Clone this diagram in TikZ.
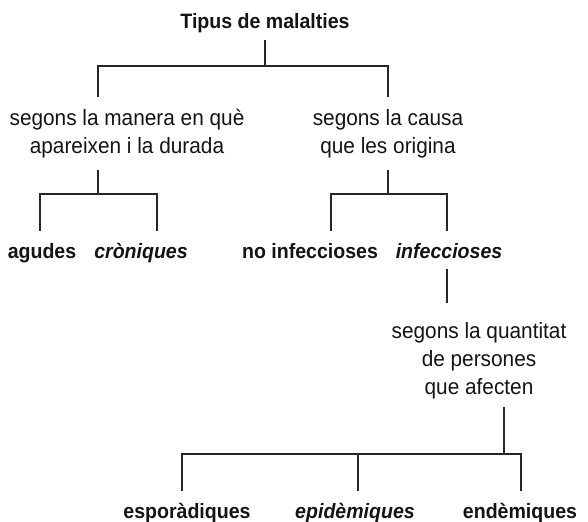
\documentclass[tikz,border=0pt]{standalone}
\usepackage{fontspec}
\setmainfont{Liberation Sans}[FakeStretch=0.94]
\begin{document}
\begin{tikzpicture}[x=0.75pt,y=-0.75pt,
  txt/.style={font=\fontsize{16.6}{21}\selectfont, align=center, inner sep=0pt, anchor=base, text=black!92},
  leaf/.style={txt, font=\fontsize{15.6}{21}\selectfont\bfseries},
  leafit/.style={txt, font=\fontsize{15.6}{21}\selectfont\bfseries\itshape},
  conn/.style={draw=black!85, line width=0.8pt}]
\useasboundingbox (0,0) rectangle (588,521);
% nodes
\node[leaf] (title) at (265,28) {Tipus de malalties};
\node[txt] (manera) at (127,153) {segons la manera en què\\apareixen i la durada};
\node[txt] (causa) at (388,153) {segons la causa\\que les origina};
\node[leaf] (agudes) at (42,258) {agudes};
\node[leafit] (croniques) at (141,258) {cròniques};
\node[leaf] (noinf) at (310,258) {no infeccioses};
\node[leafit] (inf) at (449,258) {infeccioses};
\node[txt] (quant) at (479,394) {segons la quantitat\\de persones\\que afecten};
\node[leaf] (espo) at (187,518) {esporàdiques};
\node[leafit] (epid) at (355,518) {epidèmiques};
\node[leaf] (endem) at (520,518) {endèmiques};
% connector points
\coordinate (t0) at (265,40);
\coordinate (t1) at (265,66);
\coordinate (ma) at (98,97);
\coordinate (ca) at (388,97);
\coordinate (m0) at (98,170);
\coordinate (m1) at (98,194);
\coordinate (ag) at (40,231);
\coordinate (cr) at (157,231);
\coordinate (c0) at (388,170);
\coordinate (c1) at (388,194);
\coordinate (ni) at (331,231);
\coordinate (in) at (447,231);
\coordinate (i0) at (447,269);
\coordinate (qa) at (447,303);
\coordinate (q0) at (504,407);
\coordinate (q1) at (504,454);
\coordinate (es) at (182,491);
\coordinate (ep) at (358,491);
\coordinate (en) at (521,491);
% connectors
\draw[conn] (t0) -- (t1);
\draw[conn] (ma) |- (t1) -| (ca);
\draw[conn] (m0) -- (m1);
\draw[conn] (ag) |- (m1) -| (cr);
\draw[conn] (c0) -- (c1);
\draw[conn] (ni) |- (c1) -| (in);
\draw[conn] (i0) -- (qa);
\draw[conn] (q0) -- (q1);
\draw[conn] (es) |- (q1) -| (en);
\draw[conn] (ep) -- (ep |- q1);
\end{tikzpicture}
\end{document}
